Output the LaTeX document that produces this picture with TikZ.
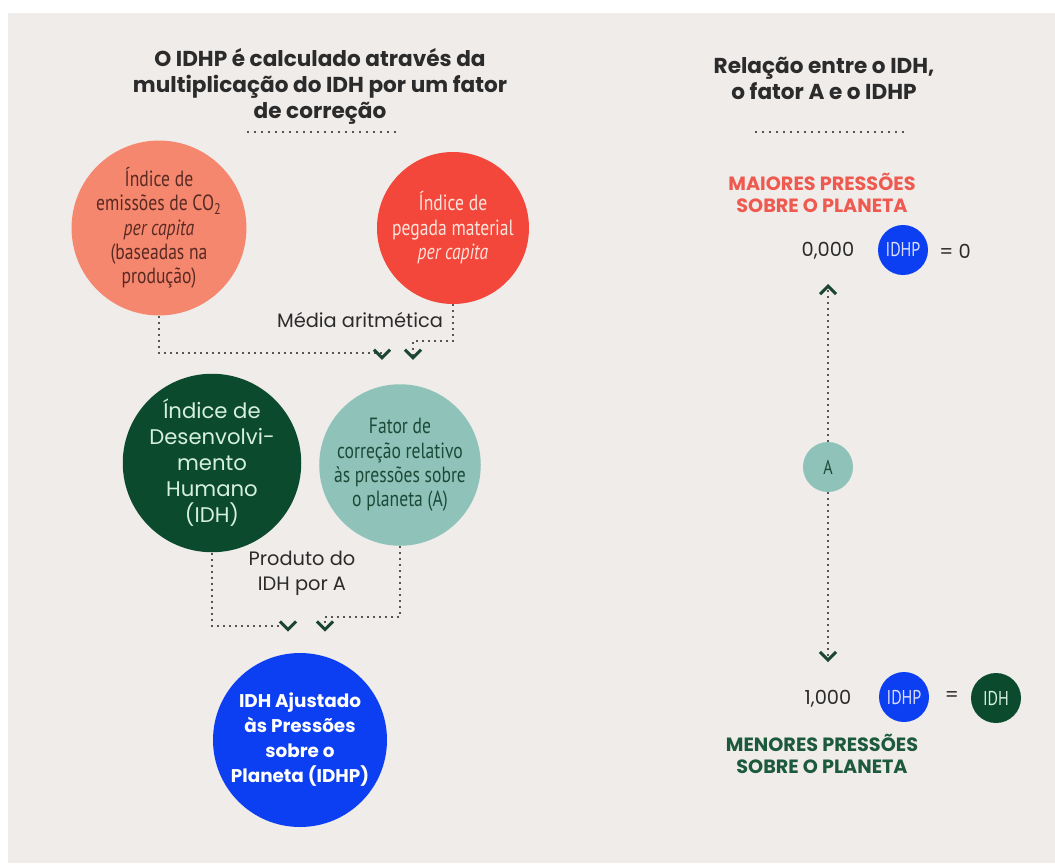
\documentclass[tikz,border=0pt]{standalone}
\usepackage{fontspec}
\setmainfont{Poppins}
\newfontfamily\narrowfont[FakeStretch=0.8]{PT Sans}
\usetikzlibrary{arrows.meta}
\usetikzlibrary{positioning}

\definecolor{bgpanel}{HTML}{EFECEA}
\definecolor{inkgray}{HTML}{2B2B2B}
\definecolor{dotgray}{HTML}{555555}
\definecolor{chevgreen}{HTML}{1C4634}
\definecolor{salmon}{HTML}{F5876F}
\definecolor{salmontext}{HTML}{5A2A22}
\definecolor{tomato}{HTML}{F2473A}
\definecolor{tomatotext}{HTML}{FDE3DB}
\definecolor{idhgreen}{HTML}{0B4A2D}
\definecolor{idhtext}{HTML}{D6F0DE}
\definecolor{fatorteal}{HTML}{8FC3B9}
\definecolor{fatortext}{HTML}{1D4A38}
\definecolor{idhpblue}{HTML}{0D3FF2}
\definecolor{idhptext}{HTML}{D9DEFF}
\definecolor{maiorred}{HTML}{EE5A50}
\definecolor{menorgreen}{HTML}{1D5A3C}

\begin{document}
\begin{tikzpicture}[x=0.5pt, y=-0.5pt,
  bubble/.style={circle, inner sep=0pt, minimum size=#1, align=center},
  narrowtext/.style={font=\narrowfont\fontsize{11}{12.2}\selectfont},
  smalltext/.style={font=\narrowfont\fontsize{10}{12}\selectfont},
  title/.style={align=center, text=inkgray, font=\bfseries\fontsize{10.8}{13}\selectfont},
  caps/.style={align=center, font=\bfseries\fontsize{9.6}{11.2}\selectfont},
  note/.style={align=center, text=inkgray, font=\fontsize{9.7}{12.5}\selectfont},
  rule/.style={dotgray, line width=1pt, dash pattern=on 1pt off 2.5pt},
  link/.style={dotgray, line width=1pt, dash pattern=on 1pt off 2pt,
    -{Straight Barb[length=4pt, width=8pt, line width=1.5pt, color=chevgreen]}}]

\useasboundingbox (0,0) rectangle (1055,863);
\fill[bgpanel] (8,13) rectangle (1055,863);

% titles
\node[title] (lefttitle) at (320,86) {O IDHP é calculado através da\\multiplicação do IDH por um fator\\de correção};
\node[title] (righttitle) at (824,78) {Relação entre o IDH,\\o fator A e o IDHP};
\draw[rule] (247,132) -- (397,132);
\draw[rule] (755,132) -- (907,132);

% top row
\node[bubble=76pt, fill=salmon, text=salmontext, narrowtext] (co2) at (159,228)
  {Índice de\\emissões de CO\textsubscript{2}\\\textit{per capita}\\(baseadas na\\produção)};
\node[bubble=76pt, fill=tomato, text=tomatotext, narrowtext] (pegada) at (453,228)
  {Índice de\\pegada material\\\textit{per capita}};
\node[note] (media) at (360,320) {Média aritmética};

% middle row
\node[bubble=74pt, fill=idhgreen, text=idhtext, font=\fontsize{10.6}{13}\selectfont] (idh) at (212,463)
  {Índice de\\Desenvolvi-\\mento\\Humano\\(IDH)};
\node[bubble=75pt, fill=fatorteal, text=fatortext, narrowtext] (fator) at (400,465)
  {Fator de\\correção relativo\\às pressões sobre\\o planeta (A)};
\coordinate (fatorin1) at ([xshift=-9pt, yshift=12pt]fator.north);
\coordinate (fatorin2) at ([xshift=6.5pt, yshift=12pt]fator.north);
\draw[link] (co2.south) -- ++(0,37) -| (fatorin1);
\draw[link] (pegada.south) -- ++(0,37) -| (fatorin2);

\node[note] (produto) at (302,573) {Produto do\\IDH por A};

% result
\node[bubble=87pt, fill=idhpblue, text=white, font=\bfseries\fontsize{9.2}{12.5}\selectfont] (idhp) at (300,740)
  {IDH Ajustado\\às Pressões\\sobre o\\Planeta (IDHP)};
\coordinate (idhpin1) at ([xshift=-6pt, yshift=10.5pt]idhp.north);
\coordinate (idhpin2) at ([xshift=12.5pt, yshift=10.5pt]idhp.north);
\draw[link] (idh.south) -- ++(0,73) -| (idhpin1);
\draw[link] (fator.south) -- ++(0,71) -| (idhpin2);

% right scale
\node[caps, text=maiorred] (maiores) at (822,193) {MAIORES PRESSÕES\\SOBRE O PLANETA};
\node[note] (zero) at (828,251) {0,000};
\node[bubble=25pt, fill=idhpblue, text=idhptext, smalltext] (topidhp) at (903,250) {IDHP};
\node[note] (eqzero) at (955,251) {= 0};

\node[bubble=25pt, fill=fatorteal, text=fatortext, smalltext] (amark) at (828,467) {A};
\coordinate (uptip) at (828,284);
\coordinate (downtip) at (828,662);
\draw[link] (amark.north) -- (uptip);
\draw[link] (amark.south) -- (downtip);

\node[note] (one) at (828,699) {1,000};
\node[bubble=25pt, fill=idhpblue, text=idhptext, smalltext] (botidhp) at (904,697) {IDHP};
\node[note] (eqsign) at (952,697) {=};
\node[bubble=25pt, fill=idhgreen, text=idhtext, smalltext] (botidh) at (996,698) {IDH};
\node[caps, text=menorgreen] (menores) at (822,754) {MENORES PRESSÕES\\SOBRE O PLANETA};
\end{tikzpicture}
\end{document}
